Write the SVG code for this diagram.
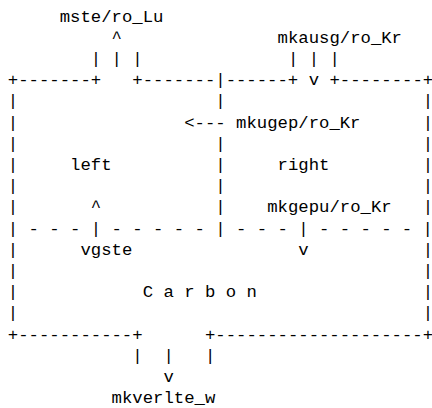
<svg xmlns="http://www.w3.org/2000/svg" width="432" height="408" viewBox="0 0 432 408">
<style>
text{font-family:"Liberation Mono","DejaVu Sans Mono",monospace;font-size:17.29px;fill:#000;white-space:pre}
</style>
<rect width="432" height="408" fill="#fff"/>
<g id="frame" xml:space="preserve">
<text x="7.8" y="85.1">+-------+</text>
<text x="132.3" y="85.1">+-------|------+</text>
<text x="329.43" y="85.1">+--------+</text>
<text x="7.8" y="106.3">|</text><text x="215.3" y="106.3">|</text><text x="422.8" y="106.3">|</text>
<text x="7.8" y="127.5">|</text><text x="422.8" y="127.5">|</text>
<text x="7.8" y="148.7">|</text><text x="215.3" y="148.7">|</text><text x="422.8" y="148.7">|</text>
<text x="7.8" y="169.9">|</text><text x="215.3" y="169.9">|</text><text x="422.8" y="169.9">|</text>
<text x="7.8" y="191.1">|</text><text x="215.3" y="191.1">|</text><text x="422.8" y="191.1">|</text>
<text x="7.8" y="212.3">|</text><text x="215.3" y="212.3">|</text><text x="422.8" y="212.3">|</text>
<text x="7.8" y="233.5">| - - - | - - - - - | - - - | - - - - - |</text>
<text x="7.8" y="254.7">|</text><text x="422.8" y="254.7">|</text>
<text x="7.8" y="275.9">|</text><text x="422.8" y="275.9">|</text>
<text x="7.8" y="297.1">|</text><text x="422.8" y="297.1">|</text>
<text x="7.8" y="318.3">|</text><text x="422.8" y="318.3">|</text>
<text x="7.8" y="339.5">+-----------+</text>
<text x="204.93" y="339.5">+--------------------+</text>
</g>
<g id="connectors" xml:space="preserve">
<text x="111.55" y="42.7">^</text>
<text x="90.8" y="63.9">| | |</text>
<text x="287.93" y="63.9">| | |</text>
<text x="308.68" y="85.1">v</text>
<text x="184.18" y="127.5">&lt;---</text>
<text x="90.8" y="212.3">^</text>
<text x="298.3" y="254.7">v</text>
<text x="132.3" y="360.7">|</text><text x="163.43" y="360.7">|</text><text x="204.93" y="360.7">|</text>
<text x="163.43" y="381.9">v</text>
</g>
<g id="mste_ro_Lu"><text x="59.7" y="21.5">mste/ro_Lu</text></g>
<g id="mkausg_ro_Kr"><text x="277.55" y="42.7">mkausg/ro_Kr</text></g>
<g id="mkugep_ro_Kr"><text x="236.05" y="127.5">mkugep/ro_Kr</text></g>
<g id="left"><text x="70.05" y="169.9">left</text></g>
<g id="right"><text x="277.55" y="169.9">right</text></g>
<g id="mkgepu_ro_Kr"><text x="267.18" y="212.3">mkgepu/ro_Kr</text></g>
<g id="vgste"><text x="80.43" y="254.7">vgste</text></g>
<g id="carbon" xml:space="preserve"><text x="142.68" y="297.1">C a r b o n</text></g>
<g id="mkverlte_w"><text x="111.55" y="403.1">mkverlte_w</text></g>
</svg>
